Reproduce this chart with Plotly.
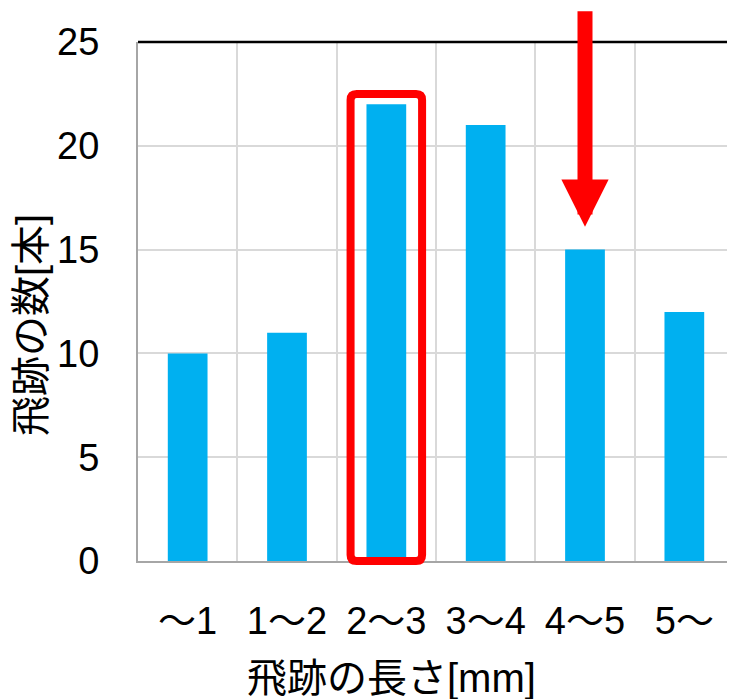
import plotly.graph_objects as go

categories = ["～1", "1～2", "2～3", "3～4", "4～5", "5～"]
counts = [10, 11, 22, 21, 15, 12]
y_ticks = [0, 5, 10, 15, 20, 25]
x_title = "飛跡の長さ[mm]"
y_title = "飛跡の数[本]"
highlight_cat = "2～3"
arrow_cat = "4～5"

FONT = "Liberation Sans, Arial, Noto Sans CJK JP, sans-serif"
BAR_COLOR = "#00B0F0"
RED = "#FF0000"

xi = list(range(len(categories)))
x_min, x_max = -0.5, len(categories) - 0.5
y_min, y_max = 0, 25

# page body has an 8px default margin: compensate so the plot sits where the reference has it
OFF = 8
PL, PT, PR, PB = 138, 42, 1, 138
PW, PH = 735 - PL - PR, 699 - PT - PB


def px(x):
    return (x - x_min) / (x_max - x_min)


def py(y):
    return (y - y_min) / (y_max - y_min)


fig = go.Figure()
fig.add_trace(go.Bar(x=xi, y=counts, width=0.4, marker=dict(color=BAR_COLOR, line=dict(width=0))))

# highlight rounded rectangle around the 2～3 bar
hi = categories.index(highlight_cat)
x0, x1 = px(hi - 0.36), px(hi + 0.36)
y0, y1 = py(0), py(counts[hi] + 0.5)
rx, ry = 6 / PW, 6 / PH
path = (
    f"M{x0+rx},{y0} L{x1-rx},{y0} Q{x1},{y0} {x1},{y0+ry} "
    f"L{x1},{y1-ry} Q{x1},{y1} {x1-rx},{y1} "
    f"L{x0+rx},{y1} Q{x0},{y1} {x0},{y1-ry} "
    f"L{x0},{y0+ry} Q{x0},{y0} {x0+rx},{y0} Z"
)

shapes = [
    dict(type="line", xref="paper", yref="paper", x0=0, x1=1, y0=1, y1=1,
         line=dict(color="black", width=2.5), layer="above"),
    dict(type="line", xref="paper", yref="paper", x0=1, x1=1, y0=0, y1=1,
         line=dict(color="black", width=2.5), layer="above"),
    dict(type="path", xref="paper", yref="paper", path=path,
         line=dict(color=RED, width=8), fillcolor="rgba(0,0,0,0)", layer="above"),
]

ai = categories.index(arrow_cat)
annotations = [
    dict(x=ai, y=counts[ai] + 1.1, xref="x", yref="y", text="", showarrow=True,
         ax=0, ay=-217, axref="pixel", ayref="pixel", arrowhead=2, arrowwidth=15,
         arrowsize=0.63, arrowcolor=RED, standoff=0, font=dict(size=1)),
    dict(x=(391.5 - PL) / PW, y=(PT + PH - 678) / PH, xref="paper", yref="paper",
         text=x_title, showarrow=False, xanchor="center", yanchor="middle",
         font=dict(family=FONT, size=40, color="black")),
    dict(x=(31 - PL) / PW, y=(PT + PH - 325) / PH, xref="paper", yref="paper",
         text=y_title, showarrow=False, xanchor="center", yanchor="middle",
         textangle=-90, font=dict(family=FONT, size=40, color="black")),
]

fig.update_layout(
    width=735 - OFF, height=699 - OFF,
    margin=dict(l=PL - OFF, r=PR, t=PT - OFF, b=PB, pad=0),
    paper_bgcolor="white", plot_bgcolor="white",
    showlegend=False,
    font=dict(family=FONT, size=38, color="black"),
    shapes=shapes,
    annotations=annotations,
    xaxis=dict(
        range=[x_min, x_max], tickvals=xi, ticktext=categories,
        showgrid=False, zeroline=False, ticks="",
        showline=True, linecolor="#A6A6A6", linewidth=2,
        minor=dict(tickvals=[i + 0.5 for i in xi[:-1]], showgrid=True,
                   gridcolor="#D9D9D9", gridwidth=2, ticks=""),
        ticklabelstandoff=25,
        tickfont=dict(family=FONT, size=38, color="black"),
        fixedrange=True,
    ),
    yaxis=dict(
        range=[y_min, y_max], tickvals=y_ticks,
        showgrid=True, gridcolor="#D9D9D9", gridwidth=2,
        zeroline=False, ticks="",
        showline=True, linecolor="#A6A6A6", linewidth=2,
        ticklabelstandoff=29,
        tickfont=dict(family=FONT, size=38, color="black"),
        fixedrange=True,
    ),
)

fig.write_html("out.html")
